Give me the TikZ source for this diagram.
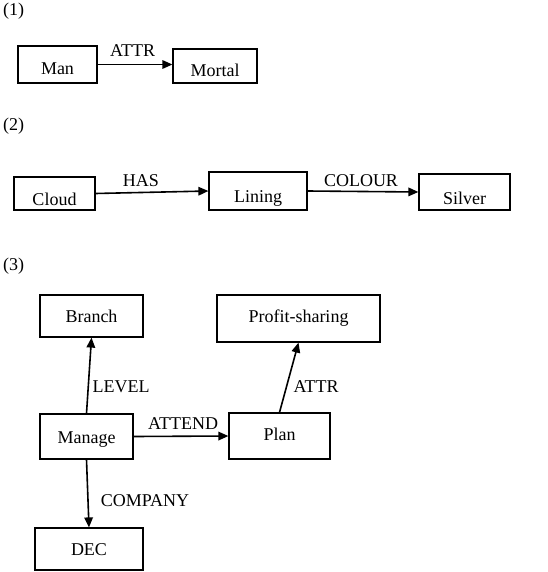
\documentclass[tikz,border=0pt]{standalone}
\usepackage{fontspec}
\setmainfont{Liberation Serif}
\usetikzlibrary{arrows.meta}
\begin{document}
\begin{tikzpicture}[x=1pt,y=-1pt,
  cgbox/.style={draw,line width=1.2pt,inner xsep=0pt,inner ysep=0pt,font=\fontsize{18}{21}\selectfont},
  rel/.style={line width=1.6pt,-{Triangle[length=10pt,width=8.5pt]}},
  lbl/.style={inner sep=0pt,anchor=base,font=\fontsize{18}{21}\selectfont},
  num/.style={inner sep=0pt,anchor=base west,font=\fontsize{18}{21}\selectfont}]
\useasboundingbox (0,0) rectangle (547,572);
% (1)
\node[num] (n1) at (3,16) {(1)};
\node[cgbox,minimum width=79pt,text height=29pt,text depth=8pt] (Man) at (57.5,64.5) {Man};
\node[cgbox,minimum width=84pt,text height=27.7pt,text depth=6.3pt] (Mortal) at (215,66) {Mortal};
\draw[rel] (Man.east) -- (Man.east -| Mortal.west);
\node[lbl] (l1) at (132.5,57) {ATTR};
% (2)
\node[num] (n2) at (3,131) {(2)};
\node[cgbox,minimum width=81pt,text height=28pt,text depth=5pt] (Cloud) at (54.5,193.5) {Cloud};
\node[cgbox,minimum width=98pt,text height=30pt,text depth=8pt] (Lining) at (258,191) {Lining};
\node[cgbox,minimum width=91pt,text height=30pt,text depth=6pt] (Silver) at (464.5,192) {Silver};
\draw[rel] (Cloud.east) -- (Lining.west);
\draw[rel] (Lining.east) -- (Silver.west);
\node[lbl] (l2) at (141,186) {HAS};
\node[lbl] (l3) at (361,186) {COLOUR};
% (3)
\node[num] (n3) at (3,270) {(3)};
\node[cgbox,minimum width=103pt,text height=27.7pt,text depth=14.3pt] (Branch) at (91.5,316) {Branch};
\node[cgbox,minimum width=163pt,text height=27.7pt,text depth=19.3pt] (Profit) at (298.5,318.5) {Profit-sharing};
\node[cgbox,minimum width=93pt,text height=29pt,text depth=16pt] (Manage) at (86.5,436.5) {Manage};
\node[cgbox,minimum width=101pt,text height=27pt,text depth=19pt] (Plan) at (279.5,436) {Plan};
\node[cgbox,minimum width=108pt,text height=27pt,text depth=15pt] (DEC) at (89,549) {DEC};
\draw[rel] (Manage.north) -- (Branch.south);
\draw[rel] (Manage.south) -- (DEC.north);
\draw[rel] (Manage.east) -- (Plan.west);
\draw[rel] (Plan.north) -- (Profit.south);
\node[lbl] (l4) at (121,392.7) {LEVEL};
\node[lbl] (l5) at (316,392.7) {ATTR};
\node[lbl] (l6) at (183,429) {ATTEND};
\node[lbl] (l7) at (145,506) {COMPANY};
\end{tikzpicture}
\end{document}
